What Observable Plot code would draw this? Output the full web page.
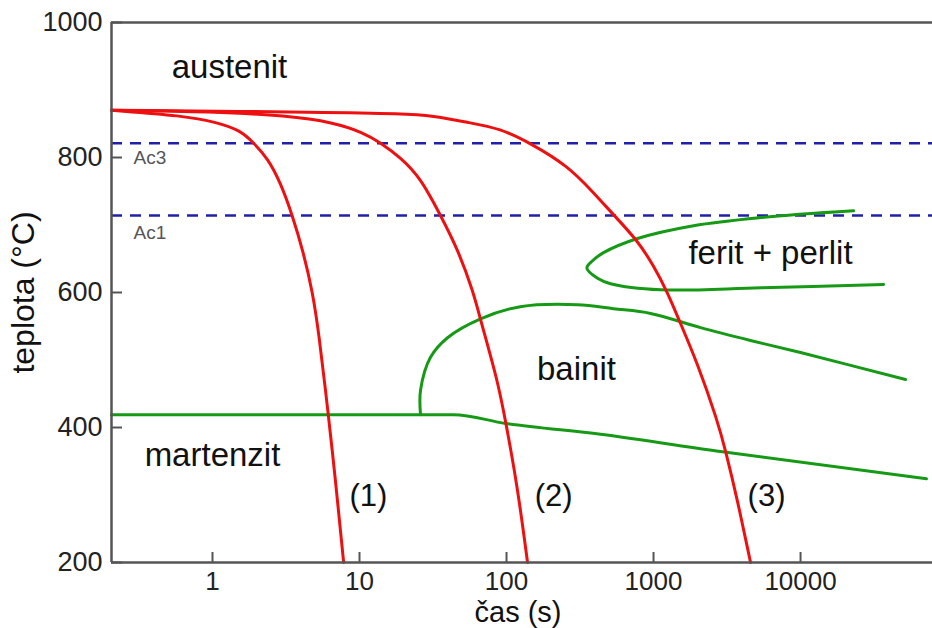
<!DOCTYPE html>
<html>
<head>
<meta charset="utf-8">
<script src="https://cdn.jsdelivr.net/npm/d3@7"></script>
<script src="https://cdn.jsdelivr.net/npm/@observablehq/plot@0.6"></script>
<style>
  html, body { margin: 0; padding: 0; background: #fff; }
  svg { display: block; }
</style>
</head>
<body>
<div id="chart"></div>
<script>
// ---- axes ----
const xTicks = [1, 10, 100, 1000, 10000];
const yTicks = [200, 400, 600, 800, 1000];
const timeMin = 0.2056, timeMax = 79000;
const tempMin = 200, tempMax = 1000;

// ---- critical temperatures ----
const acNames = ["Ac3", "Ac1"];
const acTemp = [821, 714];
const acLabelTemp = [800, 689];
const acLabelTime = [0.29, 0.29];

// ---- cooling curves (red) ----
const cool1Time = [0.2056, 0.63, 1.08, 1.55, 1.9, 2.37, 2.9, 3.5, 4.16, 4.8, 5.26, 6.15, 6.87, 7.8];
const cool1Temp = [870, 862, 852, 840, 822, 799, 763, 714, 659, 600, 544, 418, 321, 200];
const cool2Time = [0.2056, 1.0, 3.24, 6.65, 10.6, 13.9, 19, 26, 35.6, 46.4, 59.7, 66.6, 86.9, 98.5, 119, 139];
const cool2Temp = [870, 868, 862, 852, 837, 822, 800, 770, 714, 665, 600, 559, 470, 410, 311, 200];
const cool3Time = [0.2056, 6.65, 19, 31.9, 54.3, 91, 146, 260, 391, 540, 778, 1000, 1245, 1479, 1992, 2723, 3090, 3727, 4570];
const cool3Temp = [870, 867, 865, 862, 852, 843, 821, 788, 748, 714, 677, 640, 600, 561, 495, 410, 366, 292, 200];

// ---- transformation lines (green) ----
const martTime = [0.2056, 43.6, 98.5, 436, 2946, 71900];
const martTemp = [419, 419, 406, 390, 364, 324];
const bainTime = [26.0, 26.0, 30.4, 39.7, 66.6, 124, 304, 534, 954, 2089, 4570, 10000, 51800];
const bainTemp = [419, 455, 504, 533, 561, 579, 582, 576, 569, 548, 529, 511, 471];
const feriTime = [22950, 5345, 1871, 778, 457, 385, 352, 416, 510, 1116, 5345, 36700];
const feriTemp = [721, 711, 699, 680, 659, 647, 636, 621, 613, 604, 607, 612];

// ---- labels ----
const regionNames = ["austenit", "martenzit", "bainit", "ferit + perlit"];
const regionTime = [1.305, 1.0, 299, 6250];
const regionTemp = [933, 358, 486, 658];
const curveNames = ["(1)", "(2)", "(3)"];
const curveLabelTime = [11.5, 209, 5870];
const curveLabelTemp = [299, 299, 299];

const rows = (id, t, T) => t.map((v, i) => ({id, time: v, temp: T[i]}));
const redRows = [...rows("1", cool1Time, cool1Temp), ...rows("2", cool2Time, cool2Temp), ...rows("3", cool3Time, cool3Temp)];
const martRows = rows("m", martTime, martTemp);
const bainRows = rows("b", bainTime, bainTemp);
const feriRows = rows("f", feriTime, feriTemp);
const acRows = acNames.map((n, i) => ({name: n, temp: acTemp[i], ltime: acLabelTime[i], ltemp: acLabelTemp[i]}));
const regionRows = regionNames.map((n, i) => ({name: n, time: regionTime[i], temp: regionTemp[i]}));
const curveRows = curveNames.map((n, i) => ({name: n, time: curveLabelTime[i], temp: curveLabelTemp[i]}));

const W = 932, H = 628, mL = 111, mR = 0, mT = 22, mB = 66;
const axisColor = "#555";
const red = "#ee1010", green = "#169a16", blue = "#2020a8";
const font = "'Liberation Sans', Arial, Helvetica, sans-serif";

const chart = Plot.plot({
  width: W, height: H,
  marginLeft: mL, marginRight: mR, marginTop: mT, marginBottom: mB,
  style: {fontFamily: font, background: "#fff", color: "#222"},
  x: {type: "log", domain: [timeMin, timeMax]},
  y: {domain: [tempMin, tempMax]},
  marks: [
    Plot.ruleY(acRows, {y: "temp", stroke: blue, strokeWidth: 2.5, strokeDasharray: "11,8"}),
    Plot.line(martRows, {x: "time", y: "temp", stroke: green, strokeWidth: 3, curve: "monotone-x"}),
    Plot.line(bainRows, {x: "time", y: "temp", stroke: green, strokeWidth: 3, curve: "catmull-rom"}),
    Plot.line(feriRows, {x: "time", y: "temp", stroke: green, strokeWidth: 3, curve: "catmull-rom"}),
    Plot.line(redRows, {x: "time", y: "temp", z: "id", stroke: red, strokeWidth: 3, curve: "basis"}),
    Plot.ruleY([tempMin, tempMax], {stroke: axisColor, strokeWidth: 2.5}),
    Plot.ruleX([timeMin], {stroke: axisColor, strokeWidth: 2.5}),
    Plot.tickX(xTicks, {x: d => d, insetTop: (H - mT - mB) - 10, stroke: axisColor, strokeWidth: 2}),
    Plot.tickY(yTicks, {y: d => d, insetRight: (W - mL - mR) - 11, stroke: axisColor, strokeWidth: 2}),
    Plot.axisX(xTicks, {tickSize: 0, tickPadding: 9, fontSize: 26, tickFormat: d => String(d), label: null, fill: "#222"}),
    Plot.axisY(yTicks, {tickSize: 0, tickPadding: 9, fontSize: 27, tickFormat: d => String(d), label: null, fill: "#222"}),
    Plot.text(acRows, {x: acRows.map(d => d.ltime), y: "ltemp", text: "name", textAnchor: "start", fontSize: 19, fill: "#555"}),
    Plot.text(regionRows, {x: "time", y: "temp", text: "name", fontSize: 33, fill: "#111"}),
    Plot.text(curveRows, {x: "time", y: "temp", text: "name", fontSize: 31, fill: "#111"}),
    Plot.text(["čas (s)"], {frameAnchor: "bottom", textAnchor: "middle", lineAnchor: "middle", dx: -4, dy: 50, fontSize: 29, fill: "#111"}),
    Plot.text(["teplota (°C)"], {frameAnchor: "left", textAnchor: "middle", lineAnchor: "middle", dx: -88, rotate: -90, fontSize: 32, fill: "#111"})
  ]
});
document.getElementById("chart").appendChild(chart);
</script>
</body>
</html>
